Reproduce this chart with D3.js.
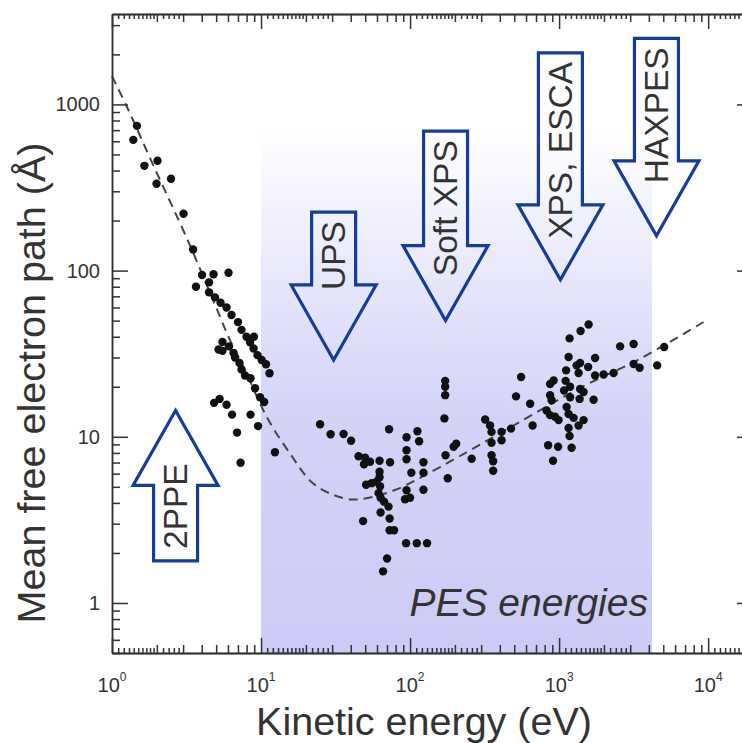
<!DOCTYPE html>
<html>
<head>
<meta charset="utf-8">
<script src="https://cdn.jsdelivr.net/npm/d3@7"></script>
<style>
  body { margin: 0; background: #fff; }
  text { font-family: "Liberation Sans", Arial, Helvetica, sans-serif; }
</style>
</head>
<body>
<div id="chart"></div>
<script>
// measured points: kinetic energy (eV) and mean free path (Å)
var energy = [1.47, 1.39, 1.65, 2.02, 1.99, 2.49, 3.02, 3.50, 4.02, 4.80, 6.05, 3.66, 4.48, 4.48, 4.91, 5.35, 5.87, 6.34, 7.01, 7.40,
  7.99, 8.97, 8.44, 8.91, 9.47, 10.1, 10.8, 11.4, 5.51, 5.19, 5.51, 6.10, 6.54, 6.69, 7.17, 7.40, 7.81, 8.50, 9.11, 9.85,
  10.5, 4.84, 5.27, 5.87, 6.39, 8.50, 9.55, 6.90, 7.29, 12.4, 24.9, 29.3, 35.8, 40.2, 72.3, 45.1, 49.9, 49.1, 53.9, 62.4,
  73.4, 62.4, 62.4, 59.6, 55.2, 50.7, 62.9, 61.5, 63.4, 66.9, 71.7, 63.4, 72.9, 72.9, 78.1, 48.4, 94.0, 111, 130, 70.1,
  65.9, 94.7, 112, 115, 94.7, 94.7, 123, 102, 123, 94.7, 92.5, 100, 123, 170, 173, 179, 172, 172, 172, 196,
  204, 259, 319, 344, 352, 411, 411, 476, 352, 352, 361, 361, 556, 514, 639, 664, 844, 985, 1213, 911,
  1176, 1394, 1578, 1158, 1114, 1106, 1080, 1185, 1310, 1383, 1566, 1352, 870, 919, 870, 891, 824, 870, 940, 992,
  1123, 1158, 1251, 1383, 1460, 1185, 1373, 1158, 1176, 1352, 1460, 1744, 1744, 1990, 2321, 2567, 3162, 5067, 4548, 3162,
  3470, 1704];
var path = [743, 612, 427, 458, 333, 357, 220, 134, 94, 95, 97, 80, 85, 74, 69, 64, 60, 54, 49, 44,
  40, 40, 37, 34, 31, 29, 27.3, 24.1, 37.2, 33.5, 32.9, 35.0, 32.0, 30.0, 27.8, 25.4, 23.4, 22.5, 19.6, 17.3,
  16.2, 16.0, 16.9, 15.6, 13.6, 13.6, 11.6, 10.6, 6.98, 8.07, 11.9, 10.35, 10.4, 9.46, 11.1, 7.64, 7.48, 6.84, 7.08, 7.17,
  7.03, 6.16, 5.71, 5.37, 5.26, 5.15, 5.04, 4.58, 4.30, 4.07, 3.80, 3.50, 3.22, 2.74, 2.74, 3.11, 2.29, 2.29, 2.29, 1.85,
  1.55, 9.93, 10.8, 9.40, 8.30, 7.33, 7.03, 6.08, 6.08, 4.77, 4.21, 4.30, 4.80, 12.9, 7.74, 5.63, 21.7, 20.0, 17.8, 8.71,
  9.08, 7.38, 12.7, 11.7, 10.7, 10.7, 9.53, 11.2, 9.20, 7.74, 7.13, 6.25, 22.9, 17.5, 15.8, 11.7, 8.89, 8.71, 8.59, 7.17,
  39.1, 43.3, 47.4, 30.2, 25.1, 21.7, 19.0, 20.0, 26.9, 27.8, 26.3, 24.2, 20.8, 21.8, 17.8, 16.6, 14.4, 13.5, 13.2, 12.6,
  15.1, 13.7, 13.0, 19.4, 18.6, 17.3, 16.9, 11.3, 10.1, 11.7, 12.6, 29.8, 23.4, 23.7, 24.2, 35.0, 36.2, 34.7, 26.9, 27.4,
  26.0, 16.7];

// dashed "universal curve"
var curveEnergy = [1, 1.3, 1.8, 3.3, 5, 6.2, 8, 11, 16, 22, 30, 40, 50, 80, 160, 470, 1400, 3500, 10000];
var curvePath = [1480, 910, 475, 145, 60, 38, 24, 13, 7.7, 5.3, 4.5, 4.2, 4.25, 4.8, 6.6, 11.4, 19.8, 29.5, 51];

// technique arrows: centre energy, tail and tip (Å)
var arrowLabels = ["UPS", "Soft XPS", "XPS, ESCA", "HAXPES", "2PPE"];
var arrowEnergy = [30.7, 173, 1020, 4500, 2.67];
var arrowTail = [225, 690, 2040, 2500, 1.79];
var arrowTip = [29, 50, 88, 162, 14.4];

// shaded PES window
var pesRange = [10, 4200];
var pesTop = 700;

var yTicks = [1, 10, 100, 1000];
var yTickLabels = ["1", "10", "100", "1000"];
var xTicks = [1, 10, 100, 1000, 10000];
var xTickExp = ["0", "1", "2", "3", "4"];

var margin = {top: 14, left: 112},
    width = 641,
    height = 639;

var svg = d3.select("#chart")
    .append("svg")
    .attr("width", 742)
    .attr("height", 743);

var x = d3.scaleLog().domain([1, 20000]).range([margin.left, margin.left + width]);
var y = d3.scaleLog().domain([0.5, 3500]).range([margin.top + height, margin.top]);

// gradient for the PES window
var grad = svg.append("defs").append("linearGradient")
    .attr("id", "pes")
    .attr("x1", 0).attr("y1", 0).attr("x2", 0).attr("y2", 1);
grad.append("stop").attr("offset", "0").attr("stop-color", "#ffffff");
grad.append("stop").attr("offset", "0.3").attr("stop-color", "#e6e6fb");
grad.append("stop").attr("offset", "0.55").attr("stop-color", "#d3d3f8");
grad.append("stop").attr("offset", "1").attr("stop-color", "#cbcbf5");

svg.append("rect")
    .attr("x", x(pesRange[0]))
    .attr("y", y(pesTop))
    .attr("width", x(pesRange[1]) - x(pesRange[0]))
    .attr("height", y(0.5) - y(pesTop))
    .attr("fill", "url(#pes)");

svg.append("text")
    .attr("x", x(pesRange[1]) - 4)
    .attr("y", y(0.83))
    .attr("text-anchor", "end")
    .attr("font-size", 39)
    .attr("font-style", "italic")
    .attr("fill", "#333")
    .text("PES energies");

// universal curve
var line = d3.line()
    .x(function(d, i) { return x(curveEnergy[i]); })
    .y(function(d) { return y(d); })
    .curve(d3.curveCatmullRom);

svg.append("path")
    .datum(curvePath)
    .attr("d", line)
    .attr("fill", "none")
    .attr("stroke", "#444")
    .attr("stroke-width", 2)
    .attr("stroke-dasharray", "9,6");

// data points
svg.append("g")
    .selectAll("circle")
    .data(path)
    .enter()
    .append("circle")
    .attr("cx", function(d, i) { return x(energy[i]); })
    .attr("cy", function(d) { return y(d); })
    .attr("r", 4.2)
    .attr("fill", "#111");

// arrows
var shaftHalf = 22, headHalf = 42.5, headLen = 75;
arrowLabels.forEach(function(label, i) {
  var cx = x(arrowEnergy[i]),
      y0 = y(arrowTail[i]),
      y1 = y(arrowTip[i]),
      dir = y1 > y0 ? 1 : -1,
      yb = y1 - dir * headLen;
  var pts = [[cx - shaftHalf, y0], [cx + shaftHalf, y0], [cx + shaftHalf, yb], [cx + headHalf, yb],
             [cx, y1], [cx - headHalf, yb], [cx - shaftHalf, yb]];
  svg.append("path")
      .attr("d", "M" + pts.join("L") + "Z")
      .attr("fill", "none")
      .attr("stroke", "#163c98")
      .attr("stroke-width", 3.2)
      .attr("stroke-linejoin", "miter");
  var ty = dir > 0 ? y0 + 9 : y0 - 12;
  svg.append("text")
      .attr("transform", "translate(" + cx + "," + ty + ") rotate(-90)")
      .attr("text-anchor", dir > 0 ? "end" : "start")
      .attr("dy", "0.35em")
      .attr("font-size", 33.5)
      .attr("fill", "#333")
      .text(label);
});

// ticks
var dense = [], minor = [], xMinor = [];
[1, 10, 100, 1000, 10000].forEach(function(d) {
  [1.1, 1.2, 1.3, 1.4, 1.5, 1.6, 1.7, 1.8, 1.9, 2.2, 2.4, 2.6, 2.8].forEach(function(m) { dense.push(d * m); });
  [2, 3, 4, 5, 6, 7, 8, 9].forEach(function(m) { xMinor.push(d * m); });
});
[0.1, 1, 10, 100, 1000].forEach(function(d) {
  [2, 3, 4, 5, 6, 7, 8, 9].forEach(function(m) {
    var v = d * m;
    if (v >= 0.5 && v <= 3500) minor.push(v);
  });
});

function styleAxis(g) {
  g.selectAll("path, line").attr("stroke", "#333").attr("stroke-width", 1.5);
  g.selectAll("text").remove();
}

var bottomY = y(0.5), topY = y(3500);
[[xTicks, 15], [xMinor, 8], [dense, 5]].forEach(function(t) {
  svg.append("g").attr("transform", "translate(0," + bottomY + ")")
      .call(d3.axisBottom(x).tickValues(t[0]).tickSizeInner(-t[1]).tickSizeOuter(0))
      .call(styleAxis);
  svg.append("g").attr("transform", "translate(0," + topY + ")")
      .call(d3.axisTop(x).tickValues(t[0]).tickSizeInner(-t[1]).tickSizeOuter(0))
      .call(styleAxis);
});
[[yTicks, 16], [minor, 8]].forEach(function(t) {
  svg.append("g").attr("transform", "translate(" + x(1) + ",0)")
      .call(d3.axisLeft(y).tickValues(t[0]).tickSizeInner(-t[1]).tickSizeOuter(0))
      .call(styleAxis);
  svg.append("g").attr("transform", "translate(" + x(20000) + ",0)")
      .call(d3.axisRight(y).tickValues(t[0]).tickSizeInner(-t[1]).tickSizeOuter(0))
      .call(styleAxis);
});

// tick labels
svg.append("g").selectAll("text")
    .data(yTicks)
    .enter().append("text")
    .attr("x", x(1) - 12)
    .attr("y", function(d) { return y(d); })
    .attr("dy", "0.35em")
    .attr("text-anchor", "end")
    .attr("font-size", 20)
    .attr("fill", "#333")
    .text(function(d, i) { return yTickLabels[i]; });

var xl = svg.append("g").selectAll("text")
    .data(xTicks)
    .enter().append("text")
    .attr("x", function(d) { return x(d); })
    .attr("y", bottomY + 39)
    .attr("text-anchor", "middle")
    .attr("font-size", 20)
    .attr("fill", "#333");
xl.append("tspan").text("10");
xl.append("tspan")
    .attr("font-size", 12)
    .attr("dy", -11)
    .text(function(d, i) { return xTickExp[i]; });

// axis titles
svg.append("text")
    .attr("x", 424)
    .attr("y", 735)
    .attr("text-anchor", "middle")
    .attr("font-size", 39.5)
    .attr("fill", "#333")
    .text("Kinetic energy (eV)");

svg.append("text")
    .attr("transform", "translate(31," + 383 + ") rotate(-90)")
    .attr("text-anchor", "middle")
    .attr("dy", "0.35em")
    .attr("font-size", 39.5)
    .attr("fill", "#333")
    .text("Mean free electron path (Å)");
</script>
</body>
</html>
